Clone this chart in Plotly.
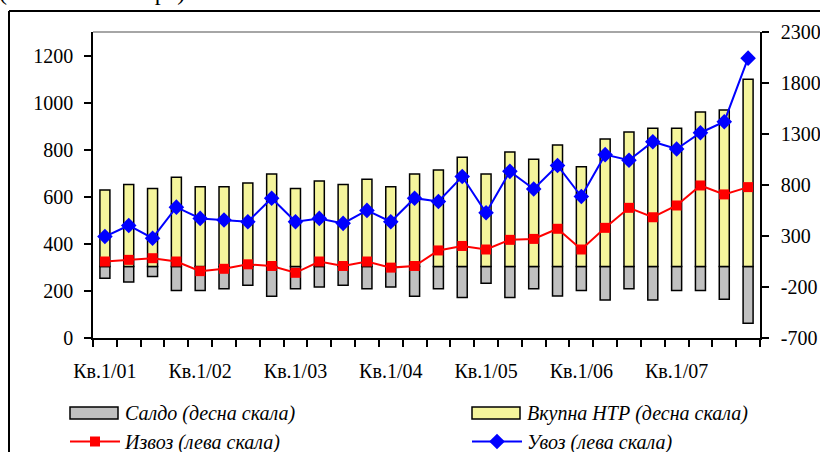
import plotly.graph_objects as go

years = ["01", "02", "03", "04", "05", "06", "07"]
categories = [f"Кв.{q}/{y}" for y in years for q in range(1, 5)]

vkupna = [752, 804, 765, 876, 784, 784, 820, 908, 765, 840, 804, 856, 784, 908,
          948, 1072, 908, 1124, 1052, 1193, 980, 1252, 1320, 1356, 1356, 1516, 1536, 1837]
saldo = [-114, -150, -98, -235, -235, -216, -183, -291, -216, -199, -183, -216, -199, -291,
         -216, -304, -163, -304, -216, -288, -235, -327, -216, -327, -235, -235, -320, -556]
izvoz = [325, 332, 339, 325, 284, 294, 313, 306, 277, 325, 306, 325, 299, 306,
         372, 391, 376, 417, 421, 464, 376, 468, 553, 513, 563, 648, 610, 641]
uvoz = [431, 478, 424, 556, 508, 501, 494, 594, 494, 508, 487, 542, 494, 594,
        580, 686, 532, 708, 633, 733, 601, 779, 755, 834, 803, 872, 919, 1189]

left_ticks = [0, 200, 400, 600, 800, 1000, 1200]
right_ticks = [-700, -200, 300, 800, 1300, 1800, 2300]

names = ["Салдо (десна скала)", "Вкупна НТР (десна скала)",
         "Извоз (лева скала)", "Увоз (лева скала)"]
unit_note = "(во милиони евра)"

x = list(range(len(categories)))
FONT = "Liberation Serif"
W, H = 820, 452
L, R, T, B = 93, 60, 32, 114
PW, PH = W - L - R, H - T - B


def px(xp):
    return (xp - L) / PW


def py(yp):
    return (H - B - yp) / PH


GRAY = "#C0C0C0"
YEL = "#F5F59C"

fig = go.Figure()
fig.add_trace(go.Bar(
    x=x, y=saldo, name=names[0], yaxis="y", width=0.42, showlegend=False,
    marker=dict(color=GRAY, line=dict(color="black", width=1.5)),
))
fig.add_trace(go.Bar(
    x=x, y=vkupna, name=names[1], yaxis="y", width=0.42, showlegend=False,
    marker=dict(color=YEL, line=dict(color="black", width=1.5)),
))
# legend entries for the bar series (swatches drawn as shapes below)
fig.add_trace(go.Scatter(x=[None], y=[None], name=names[0], mode="lines",
                         line=dict(color="rgba(0,0,0,0)", width=1), legend="legend"))
fig.add_trace(go.Scatter(x=[None], y=[None], name=names[1], mode="lines",
                         line=dict(color="rgba(0,0,0,0)", width=1), legend="legend2"))
fig.add_trace(go.Scatter(
    x=x, y=izvoz, name=names[2], yaxis="y2", mode="lines+markers", legend="legend",
    line=dict(color="#FF0000", width=2),
    marker=dict(symbol="square", size=10, color="#FF0000"),
))
fig.add_trace(go.Scatter(
    x=x, y=uvoz, name=names[3], yaxis="y2", mode="lines+markers", legend="legend2",
    line=dict(color="#0000FF", width=2),
    marker=dict(symbol="diamond", size=12, color="#0000FF"),
))

leg_common = dict(
    orientation="v", xanchor="left", yanchor="top", xref="paper", yref="paper",
    font=dict(family=FONT, size=20, style="italic"),
    traceorder="normal", itemwidth=50, bgcolor="rgba(0,0,0,0)",
    tracegroupgap=0,
)

sw_y0, sw_y1 = 407, 419
fig.update_layout(
    width=W, height=H,
    margin=dict(l=L, r=R, t=T, b=B, autoexpand=False),
    paper_bgcolor="white", plot_bgcolor="white",
    font=dict(family=FONT, size=20, color="black"),
    barmode="overlay",
    showlegend=True,
    legend=dict(x=px(65), y=py(393), **leg_common),
    legend2=dict(x=px(467), y=py(393), **leg_common),
    xaxis=dict(
        range=[-0.5, len(categories) - 0.5],
        tickvals=x[::4], ticktext=categories[::4],
        ticks="outside", ticklen=2, tickcolor="rgba(0,0,0,0)", ticklabelstandoff=12,
        showline=True, linecolor="black", linewidth=1.5,
        showgrid=False, zeroline=False,
        minor=dict(tick0=-0.5, dtick=1, ticks="outside", ticklen=7,
                   tickcolor="black", tickwidth=1.5, showgrid=False),
        tickfont=dict(size=20),
    ),
    yaxis=dict(
        side="right", range=[-700, 2300], tickvals=right_ticks,
        ticktext=[str(v) for v in right_ticks], ticklabelstandoff=8,
        ticks="outside", ticklen=7, tickwidth=1.5, tickcolor="black",
        showline=True, linecolor="black", linewidth=1.5,
        showgrid=False, zeroline=False, tickfont=dict(size=20),
    ),
    yaxis2=dict(
        side="left", overlaying="y", range=[0, 1300], tickvals=left_ticks,
        ticktext=[str(v) for v in left_ticks], ticklabelstandoff=7,
        ticks="outside", ticklen=7, tickwidth=1.5, tickcolor="black",
        showline=True, linecolor="black", linewidth=1.5,
        showgrid=False, zeroline=False, tickfont=dict(size=20),
    ),
    shapes=[
        dict(type="line", xref="paper", yref="paper", x0=0, x1=1, y0=1, y1=1,
             line=dict(color="#888888", width=1.5)),
        dict(type="line", xref="paper", yref="paper", x0=px(9), x1=px(830), y0=py(11), y1=py(11),
             line=dict(color="black", width=2)),
        dict(type="line", xref="paper", yref="paper", x0=px(9), x1=px(9), y0=py(11), y1=py(460),
             line=dict(color="black", width=2)),
        dict(type="rect", xref="paper", yref="paper", x0=px(70), x1=px(118), y0=py(sw_y0), y1=py(sw_y1),
             fillcolor=GRAY, line=dict(color="black", width=1.5)),
        dict(type="rect", xref="paper", yref="paper", x0=px(472), x1=px(520), y0=py(sw_y0), y1=py(sw_y1),
             fillcolor=YEL, line=dict(color="black", width=1.5)),
    ],
    annotations=[
        dict(text=unit_note, xref="paper", yref="paper",
             x=px(-2), y=py(6), xanchor="left", yanchor="bottom",
             showarrow=False, borderpad=0, font=dict(size=24)),
    ],
)

fig.write_html(
    "out.html",
    config={"displayModeBar": False},
    post_script="document.body.style.margin='0';document.body.style.overflow='hidden';",
)
